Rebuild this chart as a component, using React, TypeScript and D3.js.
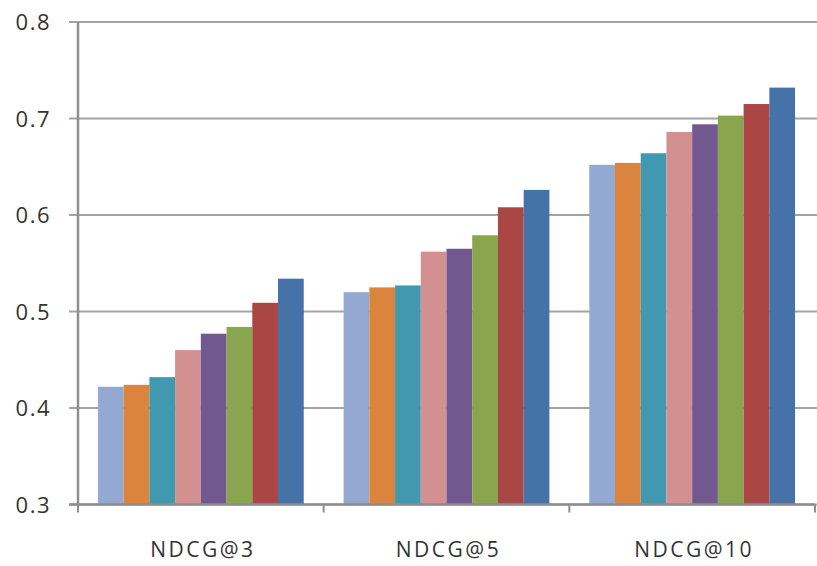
import React from "react";
import * as d3 from "d3";

// Categories along the x axis
const categories = ["NDCG@3", "NDCG@5", "NDCG@10"];

// One series per method, values per category
const seriesNames = ["M1", "M2", "M3", "M4", "M5", "M6", "M7", "M8"];
const seriesColors = [
  "#94A9D1",
  "#DB843D",
  "#4199B0",
  "#D29190",
  "#71588F",
  "#89A54E",
  "#AA4643",
  "#4572A7",
];
const valuesNdcg3 = [0.422, 0.424, 0.432, 0.46, 0.477, 0.484, 0.509, 0.534];
const valuesNdcg5 = [0.52, 0.525, 0.527, 0.562, 0.565, 0.579, 0.608, 0.626];
const valuesNdcg10 = [0.652, 0.654, 0.664, 0.686, 0.694, 0.703, 0.715, 0.732];
const yTicks = [0.3, 0.4, 0.5, 0.6, 0.7, 0.8];

const W = 817;
const H = 566;
const left = 78;
const right = 815;
const top = 22;
const bottom = 504.5;

export default function App() {
  const values = [valuesNdcg3, valuesNdcg5, valuesNdcg10];
  const y = d3.scaleLinear().domain([0.3, 0.8]).range([bottom, top]);
  const x0 = d3
    .scaleBand<string>()
    .domain(categories)
    .range([left, right])
    .paddingInner(0)
    .paddingOuter(0);
  const bw = x0.bandwidth();
  const barW = bw / (seriesNames.length + 1.55);
  const x1 = d3
    .scaleBand<string>()
    .domain(seriesNames)
    .range([(bw - barW * seriesNames.length) / 2, (bw + barW * seriesNames.length) / 2])
    .padding(0);

  const labelFont = "'Open Sans', 'DejaVu Sans', sans-serif";

  return (
    <svg
      width={W}
      height={H}
      style={{ position: "absolute", left: 0, top: 0, background: "#fff" }}
    >
      {/* horizontal gridlines with left tick marks */}
      {yTicks.map((t) => (
        <line
          key={"g" + t}
          x1={left - 9}
          x2={W}
          y1={y(t)}
          y2={y(t)}
          stroke="#A3A3A3"
          strokeWidth={2}
        />
      ))}
      {/* bars */}
      {categories.map((c, ci) => (
        <g key={c} transform={`translate(${x0(c)},0)`}>
          {seriesNames.map((s, si) => (
            <rect
              key={s}
              x={x1(s)}
              y={y(values[ci][si])}
              width={x1.bandwidth()}
              height={bottom - y(values[ci][si])}
              fill={seriesColors[si]}
            />
          ))}
        </g>
      ))}
      {/* y axis line */}
      <line x1={left} x2={left} y1={top} y2={bottom} stroke="#8E8E8E" strokeWidth={2.5} />
      {/* x axis line and category boundary ticks */}
      <line x1={left - 9} x2={right} y1={bottom} y2={bottom} stroke="#8E8E8E" strokeWidth={2.5} />
      {[left, ...categories.map((c) => (x0(c) as number) + bw)].map((xv, i) => (
        <line
          key={"xt" + i}
          x1={xv}
          x2={xv}
          y1={bottom}
          y2={bottom + 8}
          stroke="#8E8E8E"
          strokeWidth={2}
        />
      ))}
      {/* y tick labels */}
      {yTicks.map((t) => (
        <text
          key={"yl" + t}
          x={51}
          y={y(t) + 8}
          textAnchor="end"
          fontFamily={labelFont}
          fontSize={22}
          letterSpacing={1.5}
          fill="#333"
        >
          {t.toFixed(1)}
        </text>
      ))}
      {/* category labels */}
      {categories.map((c) => (
        <text
          key={"xl" + c}
          x={(x0(c) as number) + bw / 2 + 2}
          y={557}
          textAnchor="middle"
          fontFamily={labelFont}
          fontSize={21}
          letterSpacing={2.5}
          fill="#333"
        >
          {c}
        </text>
      ))}
    </svg>
  );
}
